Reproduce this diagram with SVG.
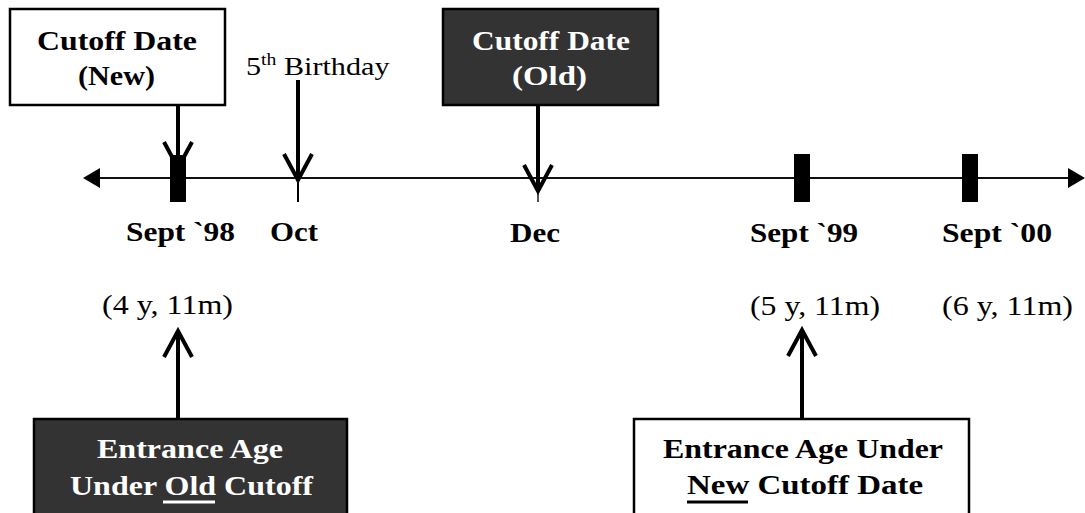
<svg xmlns="http://www.w3.org/2000/svg" width="1085" height="513" viewBox="0 0 1085 513" font-family="'Liberation Serif', 'Times New Roman', serif">
<style>
  .bg{fill:#ffffff}
  .box-w{fill:#ffffff;stroke:#000;stroke-width:2.5}
  .box-d{fill:#333333;stroke:#000;stroke-width:2.5}
  .t{font-family:'Liberation Serif','Times New Roman',serif;font-variant-ligatures:none}
  .b{font-weight:bold;font-size:28px}
  .r{font-size:28px}
  .dk{fill:#000}
  .wt{fill:#ffffff}
  .axis{stroke:#111;stroke-width:2;fill:none}
  .conn{stroke:#000;stroke-width:4;fill:none}
  .tick{fill:#000}
  .minor{stroke:#000;stroke-width:2}
</style>
<defs>
  <marker id="vhead" viewBox="-30 -17 34 34" refX="0" refY="0" markerWidth="34" markerHeight="34" markerUnits="userSpaceOnUse" orient="auto" overflow="visible">
    <path d="M-26,-14 L0,0 L-26,14" fill="none" stroke="#000" stroke-width="4" stroke-linejoin="miter"/>
  </marker>
</defs>
<rect class="bg" x="0" y="0" width="1085" height="513"/>

<g id="connectors">
  <line class="axis" x1="96" y1="178" x2="1072" y2="178"/>
  <polygon points="83,178 100,168 100,188" fill="#000"/>
  <polygon points="1085,178 1068,168 1068,188" fill="#000"/>
  <line class="minor" x1="298" y1="178" x2="298" y2="202"/>
  <line x1="538" y1="178" x2="538" y2="202" stroke="#555" stroke-width="2"/>
  <line class="conn" x1="178" y1="106" x2="178" y2="168" marker-end="url(#vhead)"/>
  <line class="conn" x1="298" y1="80" x2="298" y2="180" stroke-width="3.5" marker-end="url(#vhead)"/>
  <line class="conn" x1="538" y1="106" x2="538" y2="191" stroke-width="3" marker-end="url(#vhead)"/>
  <line class="conn" x1="178" y1="419" x2="178" y2="331" marker-end="url(#vhead)"/>
  <line class="conn" x1="802" y1="419" x2="802" y2="330" marker-end="url(#vhead)"/>
</g>

<g id="tick-sept98"><rect class="tick" x="170" y="155" width="16" height="47"/></g>
<g id="tick-sept99"><rect class="tick" x="794" y="154" width="16" height="48"/></g>
<g id="tick-sept00"><rect class="tick" x="962" y="154" width="16" height="48"/></g>

<g id="cutoff-new">
  <rect class="box-w" x="10" y="9" width="215" height="96"/>
  <text class="t b dk" x="37" y="50" textLength="160" lengthAdjust="spacingAndGlyphs">Cutoff Date</text>
  <text class="t b dk" x="78" y="85" textLength="77" lengthAdjust="spacingAndGlyphs">(New)</text>
</g>

<g id="cutoff-old">
  <rect class="box-d" x="443" y="9" width="215" height="96"/>
  <text class="t b wt" x="472" y="50" textLength="158" lengthAdjust="spacingAndGlyphs">Cutoff Date</text>
  <text class="t b wt" x="512" y="85" textLength="75" lengthAdjust="spacingAndGlyphs">(Old)</text>
</g>

<g id="birthday">
  <text class="t dk" font-size="26" transform="translate(246,75) scale(1.16,1)">5<tspan font-size="17" dy="-10">th</tspan><tspan dy="10"> Birthday</tspan></text>
</g>

<g id="labels-dates">
  <text class="t b dk" x="126" y="241" textLength="109" lengthAdjust="spacingAndGlyphs">Sept `98</text>
  <text class="t b dk" x="270" y="241" textLength="48" lengthAdjust="spacingAndGlyphs">Oct</text>
  <text class="t b dk" x="510" y="242" textLength="50" lengthAdjust="spacingAndGlyphs">Dec</text>
  <text class="t b dk" x="750" y="242" textLength="108" lengthAdjust="spacingAndGlyphs">Sept `99</text>
  <text class="t b dk" x="942" y="242" textLength="110" lengthAdjust="spacingAndGlyphs">Sept `00</text>
</g>

<g id="labels-ages">
  <text class="t r dk" x="102" y="314" textLength="131" lengthAdjust="spacingAndGlyphs">(4 y, 11m)</text>
  <text class="t r dk" x="750" y="315" textLength="130" lengthAdjust="spacingAndGlyphs">(5 y, 11m)</text>
  <text class="t r dk" x="942" y="315" textLength="131" lengthAdjust="spacingAndGlyphs">(6 y, 11m)</text>
</g>

<g id="entrance-old">
  <rect class="box-d" x="34" y="419" width="313" height="110"/>
  <text class="t b wt" x="97" y="458" textLength="186" lengthAdjust="spacingAndGlyphs">Entrance Age</text>
  <text class="t b wt" x="70" y="495" textLength="243" lengthAdjust="spacingAndGlyphs">Under Old Cutoff</text>
  <rect x="163" y="500.5" width="52" height="3" fill="#fff"/>
</g>

<g id="entrance-new">
  <rect class="box-w" x="634" y="419" width="335" height="110"/>
  <text class="t b dk" x="663" y="458" textLength="280" lengthAdjust="spacingAndGlyphs">Entrance Age Under</text>
  <text class="t b dk" x="687" y="494" textLength="236" lengthAdjust="spacingAndGlyphs">New Cutoff Date</text>
  <rect x="687" y="500.5" width="61" height="3" fill="#000"/>
</g>
</svg>
